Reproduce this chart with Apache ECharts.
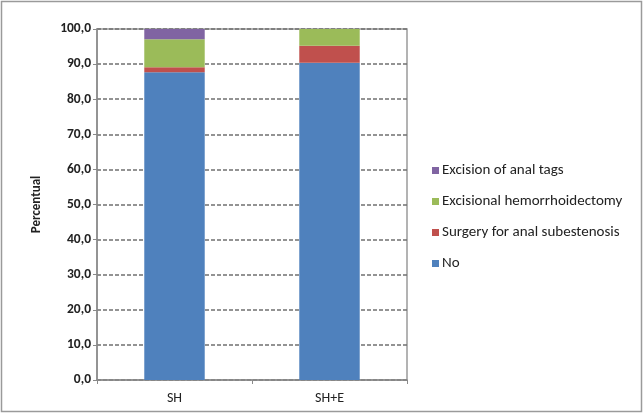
<!DOCTYPE html>
<html><head><meta charset="utf-8">
<script src="https://cdn.jsdelivr.net/npm/echarts@6/dist/echarts.min.js"></script>
<style>html,body{margin:0;padding:0;background:#fff}#c{width:644px;height:414px}</style>
</head><body><div id="c"></div>
<script>
var categories = ['SH', 'SH+E'];
var noValues = [87.7, 90.4];
var stenosisValues = [1.4, 4.8];
var hemorrhoidectomyValues = [8.0, 4.8];
var tagsValues = [2.9, 0];
var seriesNames = ['No', 'Surgery for anal subestenosis', 'Excisional hemorrhoidectomy', 'Excision of anal tags'];
var colors = ['#4F81BD', '#C0504D', '#9BBB59', '#8064A2'];

var chart = echarts.init(document.getElementById('c'));
var font = 'Carlito, Lato, "Liberation Sans", sans-serif';
var dataSets = [noValues, stenosisValues, hemorrhoidectomyValues, tagsValues];
var series = dataSets.map(function (d, i) {
  return {
    name: seriesNames[i], type: 'bar', stack: 'total', data: d,
    barWidth: '39%', itemStyle: { color: colors[i] }
  };
});
chart.setOption({
  animation: false,
  color: colors,
  graphic: [{ type: 'rect', shape: { x: 1.5, y: 1.5, width: 640, height: 410 },
    style: { fill: 'none', stroke: '#9a9a9a', lineWidth: 1.5 } }],
  grid: { left: 97, right: 237, top: 29, bottom: 34, show: true, borderColor: '#9a9a9a', borderWidth: 1.5 },
  legend: {
    orient: 'vertical', left: 427, top: 158, itemGap: 16,
    itemWidth: 7, itemHeight: 7, icon: 'rect',
    data: seriesNames.slice().reverse(),
    textStyle: { fontFamily: font, fontSize: 15, color: '#222', padding: [0, 0, 0, -2] }
  },
  xAxis: {
    type: 'category', data: categories,
    axisLine: { lineStyle: { color: '#8a8a8a', width: 1.5 } },
    axisTick: { show: true, lineStyle: { color: '#8a8a8a' }, length: 4 },
    axisLabel: { fontFamily: font, fontSize: 14, color: '#222', margin: 11 }
  },
  yAxis: {
    type: 'value', min: 0, max: 100, interval: 10,
    name: 'Percentual', nameLocation: 'middle', nameGap: 54,
    nameTextStyle: { fontFamily: font, fontSize: 13, fontWeight: 'bold', color: '#222' },
    axisLine: { show: true, lineStyle: { color: '#8a8a8a', width: 1.5 } },
    axisTick: { show: true, inside: false, length: 4, lineStyle: { color: '#8a8a8a' } },
    splitLine: { lineStyle: { color: '#707070', type: [4, 2], width: 1.5 } },
    axisLabel: {
      fontFamily: font, fontSize: 13.5, fontWeight: 'bold', color: '#222', margin: 6,
      formatter: function (v) { return v.toFixed(1).replace('.', ','); }
    }
  },
  series: series
});
</script></body></html>
